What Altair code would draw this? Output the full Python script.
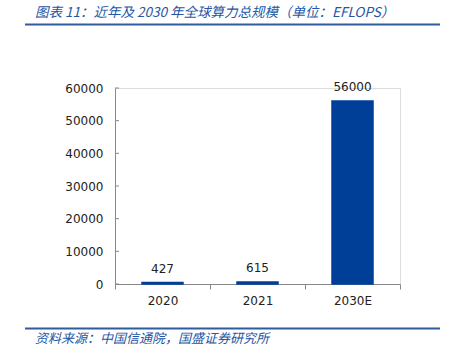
import altair as alt
import pandas as pd

categories = ["2020", "2021", "2030E"]
values = [427, 615, 56000]
y_ticks = [0, 10000, 20000, 30000, 40000, 50000, 60000]
title_text = "图表 11：近年及 2030 年全球算力总规模（单位：EFLOPS）"
source_text = "资料来源：中国信通院，国盛证券研究所"

df = pd.DataFrame({"cat": categories, "val": values})
ticks_df = pd.DataFrame({"t": y_ticks})

AX = "#888888"
BLUE = "#003F98"
TXT_BLUE = "#2456A4"
FONT = "DejaVu Sans"

xaxis = alt.Axis(title=None, labelAngle=0, labelFont=FONT, labelFontSize=12,
                 labelColor="#222222", domainColor=AX, tickColor=AX,
                 tickBand="extent", tickSize=5, labelPadding=6)
xscale = alt.Scale(paddingInner=0, paddingOuter=0)
yaxis = alt.Axis(title=None, values=y_ticks, grid=False, labelFont=FONT,
                 labelFontSize=12, labelColor="#222222", domainColor=AX,
                 tickSize=0, labelPadding=12, format="d",
                 labelOverlap=False, labelFlush=False)
yscale = alt.Scale(domain=[0, 60000])

bars = alt.Chart(df).mark_bar(size=41, color=BLUE, stroke=BLUE, strokeWidth=1.5).encode(
    x=alt.X("cat:N", sort=categories, scale=xscale, axis=xaxis),
    y=alt.Y("val:Q", scale=yscale, axis=yaxis),
)

labels = alt.Chart(df).mark_text(dy=-14, font=FONT, fontSize=12, color="#222222").encode(
    x=alt.X("cat:N", sort=categories, scale=xscale, axis=xaxis),
    y=alt.Y("val:Q", scale=yscale, axis=yaxis), text="val:Q"
)

yticks = alt.Chart(ticks_df).mark_rule(color=AX, strokeWidth=1).encode(
    y=alt.Y("t:Q", scale=yscale, axis=yaxis), x=alt.value(0), x2=alt.value(4)
)

deco_df = pd.DataFrame({"k": [0]})
top_line = alt.Chart(deco_df).mark_rule(color="#2E5C9E", strokeWidth=2).encode(
    x=alt.value(-90), x2=alt.value(325), y=alt.value(-63.5)
)
bot_line = alt.Chart(deco_df).mark_rule(color="#2E5C9E", strokeWidth=2).encode(
    x=alt.value(-90), x2=alt.value(325), y=alt.value(240.5)
)
title = alt.Chart(deco_df).mark_text(
    text=title_text, font="Noto Sans CJK SC", fontStyle="italic", fontSize=13.5,
    color=TXT_BLUE, align="left", baseline="alphabetic"
).encode(x=alt.value(-80), y=alt.value(-71))
source = alt.Chart(deco_df).mark_text(
    text=source_text, font="Noto Sans CJK SC", fontStyle="italic", fontSize=13,
    color=TXT_BLUE, align="left", baseline="alphabetic"
).encode(x=alt.value(-80), y=alt.value(255))

chart = alt.layer(bars, labels, yticks, top_line, bot_line, title, source).properties(
    width=285, height=196,
    autosize=alt.AutoSizeParams(type="none"),
    padding={"left": 115, "top": 88, "right": 52, "bottom": 68},
).configure_view(stroke=None).configure(background="white")

chart.save("out.html", embed_options={"renderer": "svg", "actions": False})
